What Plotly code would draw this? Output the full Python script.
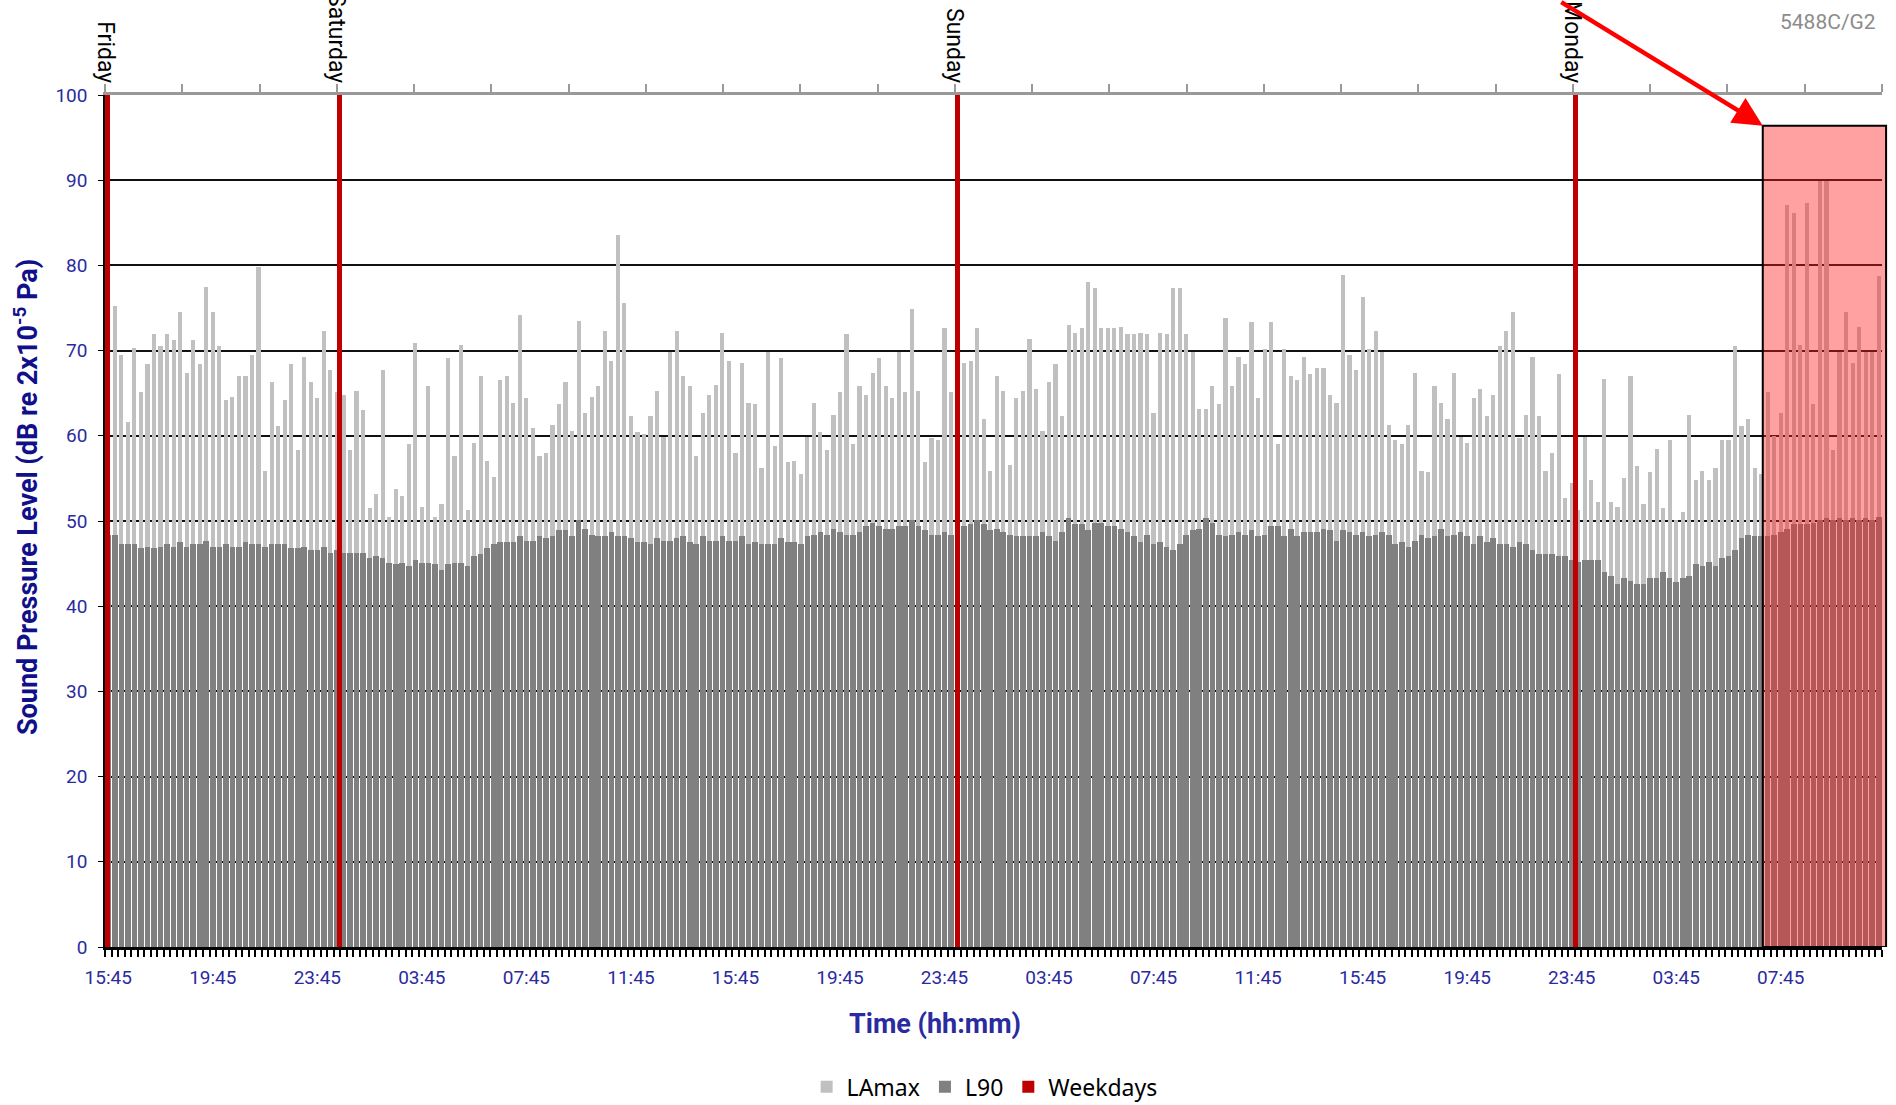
import plotly.graph_objects as go

# ---- data (15-minute intervals, Friday 15:45 onwards) ----
lamax = [
    73.6, 75.2, 69.5, 61.6, 70.3, 65.1, 68.4, 71.9, 70.5, 71.9, 71.2, 74.5, 67.4, 71.2, 68.4, 77.5,
    74.5, 70.5, 64.2, 64.6, 67.0, 67.0, 69.5, 79.8, 55.9, 66.3, 61.1, 64.2, 68.4, 58.3, 69.3, 66.3,
    64.4, 72.3, 67.7, 65.1, 64.8, 58.3, 65.3, 63.0, 51.5, 53.2, 67.7, 50.5, 53.8, 52.9, 59.0, 70.9,
    51.7, 65.8, 50.5, 52.0, 69.1, 57.6, 70.7, 51.3, 59.2, 67.0, 57.1, 55.2, 66.5, 67.0, 63.9, 74.2,
    64.4, 60.9, 57.6, 58.0, 61.3, 63.7, 66.3, 60.6, 73.5, 62.7, 64.6, 65.8, 72.3, 68.8, 83.6, 75.6,
    62.3, 60.4, 60.2, 62.3, 65.3, 59.9, 69.8, 72.3, 67.0, 65.8, 57.6, 62.7, 64.8, 66.0, 72.1, 68.8,
    58.0, 68.6, 63.9, 63.7, 56.2, 69.8, 58.8, 69.1, 56.9, 57.1, 55.5, 59.9, 63.9, 60.4, 58.3, 62.5,
    65.1, 71.9, 59.0, 65.8, 64.8, 67.4, 69.1, 65.8, 64.4, 69.8, 65.1, 74.9, 65.3, 56.9, 59.7, 59.5,
    72.6, 65.1, 72.8, 68.6, 68.8, 72.6, 62.0, 55.9, 67.0, 65.3, 56.6, 64.4, 65.3, 71.4, 65.5, 60.6,
    66.3, 68.4, 62.3, 73.0, 72.1, 72.6, 78.0, 77.3, 72.6, 72.6, 72.6, 72.8, 71.9, 71.9, 72.1, 71.9,
    62.7, 72.1, 71.9, 77.3, 77.3, 71.9, 69.8, 63.2, 63.2, 65.8, 63.7, 73.8, 65.8, 69.3, 68.4, 73.3,
    64.4, 70.2, 73.3, 59.0, 70.2, 67.0, 66.5, 69.3, 67.2, 67.9, 67.9, 64.8, 63.9, 78.9, 69.5, 67.7,
    76.3, 70.2, 72.3, 69.8, 61.3, 59.5, 59.0, 61.3, 67.4, 55.9, 55.7, 65.8, 63.9, 62.0, 67.4, 59.9,
    59.2, 64.4, 65.5, 62.3, 64.8, 70.5, 72.3, 74.5, 59.7, 62.5, 69.3, 62.3, 55.9, 58.0, 67.2, 52.7,
    54.5, 51.3, 59.9, 54.8, 52.2, 66.7, 52.2, 51.7, 55.0, 67.0, 56.4, 52.0, 55.7, 58.5, 51.5, 59.5,
    50.1, 51.0, 62.5, 54.8, 55.9, 54.8, 56.2, 59.5, 59.5, 70.5, 61.1, 62.0, 56.2, 55.5, 65.1, 60.0,
    62.7, 87.1, 86.2, 70.7, 87.3, 63.7, 89.9, 89.9, 58.3, 69.8, 74.5, 68.6, 72.8, 69.8, 69.8, 78.7,
]
l90 = [
    48.3, 48.4, 47.3, 47.3, 47.3, 46.8, 47.0, 46.8, 47.0, 47.3, 47.0, 47.5, 47.0, 47.3, 47.3, 47.7,
    47.0, 47.0, 47.3, 47.0, 47.0, 47.5, 47.3, 47.3, 47.0, 47.3, 47.3, 47.3, 46.8, 46.8, 47.0, 46.6,
    46.6, 47.0, 46.3, 46.6, 46.3, 46.3, 46.3, 46.3, 45.6, 45.9, 45.6, 45.1, 44.9, 45.1, 44.7, 45.4,
    45.1, 45.1, 44.9, 44.2, 44.9, 45.1, 45.1, 44.7, 45.9, 46.1, 46.8, 47.3, 47.5, 47.5, 47.5, 48.2,
    47.7, 47.7, 48.2, 48.0, 48.2, 48.9, 48.9, 48.2, 50.1, 49.1, 48.4, 48.2, 48.2, 48.7, 48.2, 48.2,
    48.0, 47.5, 47.5, 47.3, 48.0, 47.7, 47.7, 48.0, 48.2, 47.5, 47.3, 48.2, 47.7, 47.7, 48.2, 47.7,
    47.7, 48.2, 47.3, 47.5, 47.3, 47.3, 47.3, 48.0, 47.5, 47.5, 47.3, 48.2, 48.4, 48.7, 48.4, 49.1,
    48.7, 48.4, 48.4, 48.7, 49.4, 49.8, 49.4, 49.1, 49.1, 49.4, 49.4, 50.1, 49.4, 48.9, 48.4, 48.4,
    48.7, 48.4, 49.1, 49.4, 49.6, 50.1, 49.6, 48.9, 49.1, 48.7, 48.4, 48.2, 48.2, 48.2, 48.2, 48.7,
    48.2, 47.7, 48.7, 50.3, 49.6, 49.6, 48.9, 49.8, 49.8, 49.4, 49.4, 49.1, 48.7, 48.2, 47.5, 48.4,
    47.3, 47.5, 47.0, 46.6, 47.3, 48.4, 48.9, 49.1, 50.3, 49.8, 48.4, 48.2, 48.4, 48.7, 48.4, 48.9,
    48.2, 48.4, 49.4, 49.4, 48.2, 49.1, 48.2, 48.7, 48.7, 48.7, 49.1, 48.9, 47.7, 48.9, 48.7, 48.4,
    48.7, 48.2, 48.4, 48.7, 48.4, 47.3, 47.5, 47.0, 47.7, 48.4, 48.0, 48.2, 49.1, 48.2, 48.4, 48.7,
    48.2, 47.3, 48.2, 47.5, 48.0, 47.3, 47.3, 47.0, 47.5, 47.3, 46.6, 46.1, 46.1, 46.1, 45.9, 45.9,
    45.4, 45.2, 45.4, 45.4, 45.4, 44.0, 43.5, 42.6, 43.3, 43.0, 42.6, 42.6, 43.3, 43.3, 44.0, 43.3,
    42.8, 43.3, 43.5, 44.9, 44.7, 45.2, 44.7, 45.6, 45.9, 46.6, 48.0, 48.4, 48.2, 48.2, 48.2, 48.3,
    48.7, 49.1, 49.6, 49.6, 49.6, 49.8, 50.1, 50.3, 50.1, 50.3, 50.1, 50.3, 50.1, 50.3, 50.1, 50.5,
]
time_labels = ["15:45", "19:45", "23:45", "03:45", "07:45", "11:45"]
label_every = 16  # one label every 4 hours

day_names = ["Friday", "Saturday", "Sunday", "Monday"]
day_ticks = [0, 3, 11, 19]          # positions on the 3-hour day axis
weekday_values = [100, 100, 100, 100]
n_day_ticks = 24

# ---- derived ----
idx = list(range(len(lamax)))
tickvals = list(range(0, len(lamax), label_every))
ticktext = [time_labels[k % len(time_labels)] for k in range(len(tickvals))]
top_minor = [k for k in range(n_day_ticks) if k not in day_ticks]

BLUE = "#2B2BA0"
NAVY = "#10108A"

fig = go.Figure()
fig.add_bar(x=idx, y=lamax, name="LAmax", marker=dict(color="#C0C0C0", line_width=0), width=0.64)
fig.add_bar(x=idx, y=l90, name="L90", marker=dict(color="#808080", line_width=0), width=0.86)
fig.add_bar(x=day_ticks, y=weekday_values, name="Weekdays", xaxis="x2",
            marker=dict(color="#C00000", line_width=0), width=0.062, offset=0)

fig.update_layout(
    width=1896, height=1105,
    margin=dict(l=105, r=14, t=95, b=158, autoexpand=False),
    paper_bgcolor="white", plot_bgcolor="white",
    barmode="overlay", bargap=0,
    font=dict(family="Roboto", size=18, color="black"),
    showlegend=True,
    legend=dict(orientation="h", x=0.495, xanchor="center", y=-0.164, yanchor="middle",
                font=dict(family="Noto Sans", size=23, color="black"), traceorder="normal"),
    xaxis=dict(
        range=[-0.5, len(lamax) - 0.5], tickvals=tickvals, ticktext=ticktext,
        ticks="", showgrid=False, zeroline=False, automargin=False,
        showline=True, linecolor="black", linewidth=2.5,
        tickfont=dict(family="Roboto", size=19, color=BLUE), ticklabelstandoff=11,
        minor=dict(ticks="outside", ticklen=7, tickwidth=1.5, tickcolor="black",
                   tick0=-0.5, dtick=1, showgrid=False),
    ),
    xaxis2=dict(
        overlaying="x", side="top", anchor="y", range=[0, n_day_ticks - 1],
        tickvals=day_ticks, ticktext=day_names, tickangle=90, automargin=False,
        ticks="outside", ticklen=8, tickwidth=2, tickcolor="#999999",
        minor=dict(tickvals=top_minor, ticks="outside", ticklen=8, tickwidth=2,
                   tickcolor="#999999", showgrid=False),
        showline=True, linecolor="#999999", linewidth=2.5,
        showgrid=False, zeroline=False, ticklabelstandoff=-7,
        tickfont=dict(family="Roboto", size=23, color="black"),
    ),
    yaxis=dict(
        range=[0, 100], dtick=10, showgrid=True, gridcolor="#111111", gridwidth=2,
        ticks="outside", ticklen=5, tickcolor="black", showline=True, linecolor="black",
        linewidth=1.5, zeroline=False, automargin=False,
        tickfont=dict(family="Roboto", size=19, color=BLUE), ticklabelstandoff=7,
    ),
)

# highlighted period on the Tuesday morning
fig.add_shape(type="rect", xref="paper", yref="y", x0=0.9329, x1=1.0023, y0=0, y1=96.4,
              fillcolor="rgba(255,30,30,0.42)", line=dict(color="black", width=2), layer="above")

fig.add_annotation(x=253.25, y=96.4, xref="x", yref="y", ax=-205, ay=-134,
                   showarrow=True, arrowhead=2, arrowsize=1.3, arrowwidth=4.5,
                   arrowcolor="#FF0000", text=" ")

fig.add_annotation(x=0.9977, y=1.0857, xref="paper", yref="paper", xanchor="right",
                   yanchor="middle", showarrow=False, text="5488C/G2",
                   font=dict(family="Roboto", size=21, color="#8C8C8C"))

fig.add_annotation(x=-0.0445, y=0.528, xref="paper", yref="paper", textangle=-90,
                   xanchor="center", yanchor="middle", showarrow=False,
                   text="<b>Sound Pressure Level (dB re 2x10<sup>-5</sup> Pa)</b>",
                   font=dict(family="Roboto", size=27, color=NAVY))

fig.add_annotation(x=0.467, y=-0.09, xref="paper", yref="paper",
                   xanchor="center", yanchor="middle", showarrow=False,
                   text="<b>Time (hh:mm)</b>",
                   font=dict(family="Roboto", size=27, color=BLUE))

# remove the browser's default page margin so the figure fills the window exactly
fig.write_html("out.html", config={"displayModeBar": False},
               post_script="document.body.style.margin='0px';")
